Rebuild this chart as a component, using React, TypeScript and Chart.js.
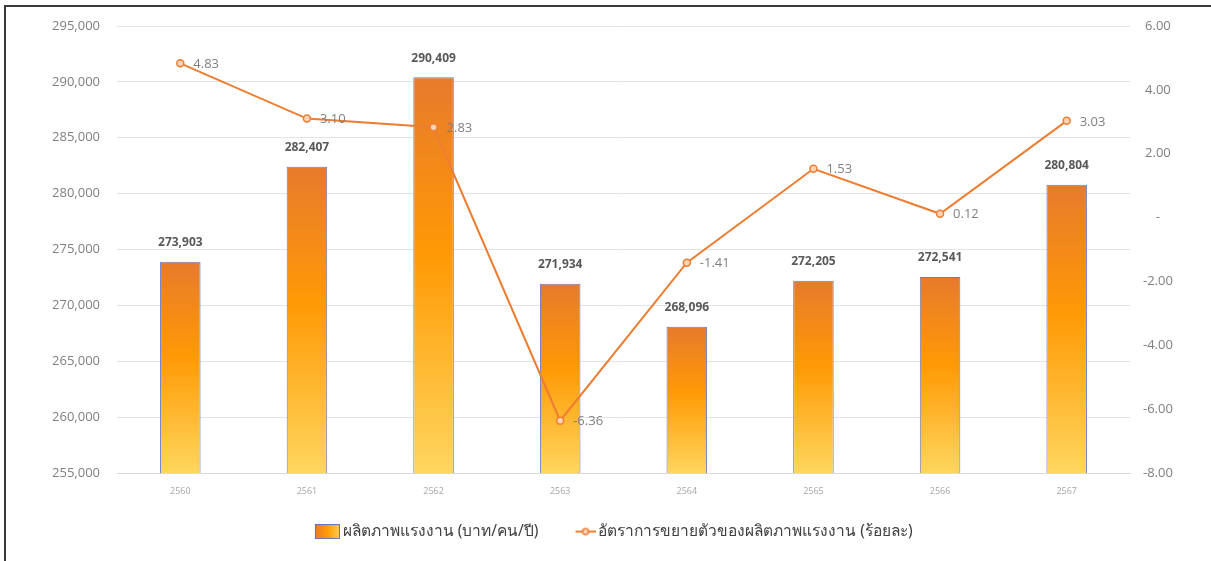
import React, { useEffect, useRef } from "react";
import { Chart, registerables } from "chart.js";

Chart.register(...registerables);

const years = ["2560", "2561", "2562", "2563", "2564", "2565", "2566", "2567"];
const productivity = [273903, 282407, 290409, 271934, 268096, 272205, 272541, 280804];
const growthRate = [4.83, 3.1, 2.83, -6.36, -1.41, 1.53, 0.12, 3.03];
const barLabel = "ผลิตภาพแรงงาน (บาท/คน/ปี)";
const lineLabel = "อัตราการขยายตัวของผลิตภาพแรงงาน (ร้อยละ)";

const FONT = "'Open Sans', 'Noto Sans', sans-serif";
const THAI_FONT = "'Noto Sans', 'Open Sans', sans-serif";
const LINE_COLOR = "#ED7D31";
const BAR_BORDER = "rgba(96,116,190,0.95)";
const BOX_W = 39;
const ICON_W = BOX_W + 10;

function makeBarGradient(c: CanvasRenderingContext2D, top: number, bottom: number) {
  const g = c.createLinearGradient(0, top, 0, bottom);
  g.addColorStop(0, "#E77A2C");
  g.addColorStop(0.45, "#FF9A05");
  g.addColorStop(1, "#FFD65E");
  return g;
}

const labelPlugin = {
  id: "valueLabels",
  afterDatasetsDraw(chart: any) {
    const c = chart.ctx as CanvasRenderingContext2D;
    c.save();
    const barMeta = chart.getDatasetMeta(0);
    c.font = `bold 12px ${FONT}`;
    c.fillStyle = "#595959";
    c.textAlign = "center";
    c.textBaseline = "middle";
    barMeta.data.forEach((el: any, i: number) => {
      c.fillText(productivity[i].toLocaleString("en-US"), el.x, el.y - 19);
    });
    const lineMeta = chart.getDatasetMeta(1);
    c.font = `13px ${FONT}`;
    c.fillStyle = "#7F7F7F";
    c.textAlign = "left";
    lineMeta.data.forEach((el: any, i: number) => {
      c.fillText(growthRate[i].toFixed(2), el.x + 13, el.y + 1);
    });
    c.restore();
  },
};

export default function App() {
  const ref = useRef<HTMLCanvasElement | null>(null);

  useEffect(() => {
    if (!ref.current) return;

    const barIcon = document.createElement("canvas");
    barIcon.width = ICON_W;
    barIcon.height = 15;
    {
      const bc = barIcon.getContext("2d")!;
      const x0 = ICON_W - 25;
      const g = bc.createLinearGradient(x0, 0, ICON_W, 0);
      g.addColorStop(0, "#E77A2C");
      g.addColorStop(0.5, "#FF9A05");
      g.addColorStop(1, "#FFCF50");
      bc.fillStyle = g;
      bc.fillRect(x0, 0, 25, 15);
      bc.strokeStyle = BAR_BORDER;
      bc.lineWidth = 1;
      bc.strokeRect(x0 + 0.5, 0.5, 24, 14);
    }
    const lineIcon = document.createElement("canvas");
    lineIcon.width = ICON_W;
    lineIcon.height = 10;
    {
      const lc = lineIcon.getContext("2d")!;
      const x0 = ICON_W - 20;
      lc.strokeStyle = LINE_COLOR;
      lc.lineWidth = 2;
      lc.beginPath();
      lc.moveTo(x0, 5);
      lc.lineTo(ICON_W, 5);
      lc.stroke();
      lc.beginPath();
      lc.arc(x0 + 10, 5, 3, 0, Math.PI * 2);
      lc.fillStyle = "#FBD3B5";
      lc.fill();
      lc.lineWidth = 1.5;
      lc.stroke();
    }

    const chart = new Chart(ref.current, {
      type: "bar",
      data: {
        labels: years,
        datasets: [
          {
            type: "bar",
            label: barLabel,
            data: productivity,
            yAxisID: "y",
            order: 2,
            backgroundColor: (ctx: any) => {
              const ch = ctx.chart;
              if (!ch.chartArea || ctx.type !== "data") return "#FF9A05";
              const top = ch.scales.y.getPixelForValue(ctx.parsed.y);
              const bottom = ch.scales.y.getPixelForValue(ch.scales.y.min);
              return makeBarGradient(ch.ctx, top, bottom);
            },
            borderColor: BAR_BORDER,
            borderWidth: 1,
            barPercentage: 0.64,
            categoryPercentage: 0.5,
          },
          {
            type: "line",
            label: lineLabel,
            data: growthRate,
            yAxisID: "y1",
            order: 1,
            borderColor: LINE_COLOR,
            borderWidth: 2,
            pointRadius: 3.5,
            pointBorderWidth: 1.5,
            pointBackgroundColor: "#FBD3B5",
            pointBorderColor: LINE_COLOR,
            tension: 0,
          },
        ],
      },
      options: {
        animation: false,
        responsive: false,
        maintainAspectRatio: false,
        layout: { padding: { top: 26, left: 16, right: 18.5, bottom: 11.7 } },
        scales: {
          x: {
            grid: { display: false, drawTicks: false },
            border: { display: true, color: "#D9D9D9", width: 1 },
            afterFit: (s: any) => {
              s.height = 37.7;
            },
            ticks: { font: { family: FONT, size: 9 }, color: "#A6A6A6", padding: 13 },
          },
          y: {
            position: "left",
            min: 255000,
            max: 295000,
            afterFit: (s: any) => {
              s.width = 101;
            },
            ticks: {
              stepSize: 5000,
              padding: 17,
              font: { family: FONT, size: 13 },
              color: "#7F7F7F",
              callback: (v: any) => Number(v).toLocaleString("en-US"),
            },
            grid: { color: "#E3E3E3", drawTicks: false, lineWidth: 1 },
            border: { display: false },
          },
          y1: {
            position: "right",
            min: -8,
            max: 6,
            afterFit: (s: any) => {
              s.width = 62.5;
            },
            ticks: {
              stepSize: 2,
              padding: 13,
              crossAlign: "center",
              font: { family: FONT, size: 13 },
              color: "#7F7F7F",
              callback: (v: any) => (Number(v) === 0 ? "-" : Number(v).toFixed(2)),
            },
            grid: { display: false, drawTicks: false },
            border: { display: false },
          },
        },
        plugins: {
          tooltip: { enabled: false },
          legend: {
            position: "bottom",
            labels: {
              usePointStyle: true,
              pointStyleWidth: BOX_W,
              boxHeight: 15,
              padding: 13,
              color: "#404040",
              font: { family: THAI_FONT, size: 15.5 },
              generateLabels: () => [
                {
                  text: barLabel,
                  pointStyle: barIcon,
                  fillStyle: "#FF9A05",
                  strokeStyle: BAR_BORDER,
                  lineWidth: 0,
                  hidden: false,
                  datasetIndex: 0,
                  fontColor: "#404040",
                },
                {
                  text: lineLabel,
                  pointStyle: lineIcon,
                  fillStyle: LINE_COLOR,
                  strokeStyle: LINE_COLOR,
                  lineWidth: 0,
                  hidden: false,
                  datasetIndex: 1,
                  fontColor: "#404040",
                },
              ],
            },
          },
        },
      } as any,
      plugins: [labelPlugin],
    });

    return () => chart.destroy();
  }, []);

  return (
    <div style={{ position: "absolute", left: 0, top: 0, width: 1211, height: 561, background: "#fff" }}>
      <canvas ref={ref} width={1211} height={561} style={{ position: "absolute", left: 0, top: 0 }} />
      <div
        style={{
          position: "absolute",
          left: 4,
          top: 5,
          right: 0,
          bottom: 0,
          borderTop: "2px solid #3a3a3a",
          borderLeft: "2px solid #3a3a3a",
          pointerEvents: "none",
        }}
      />
    </div>
  );
}
